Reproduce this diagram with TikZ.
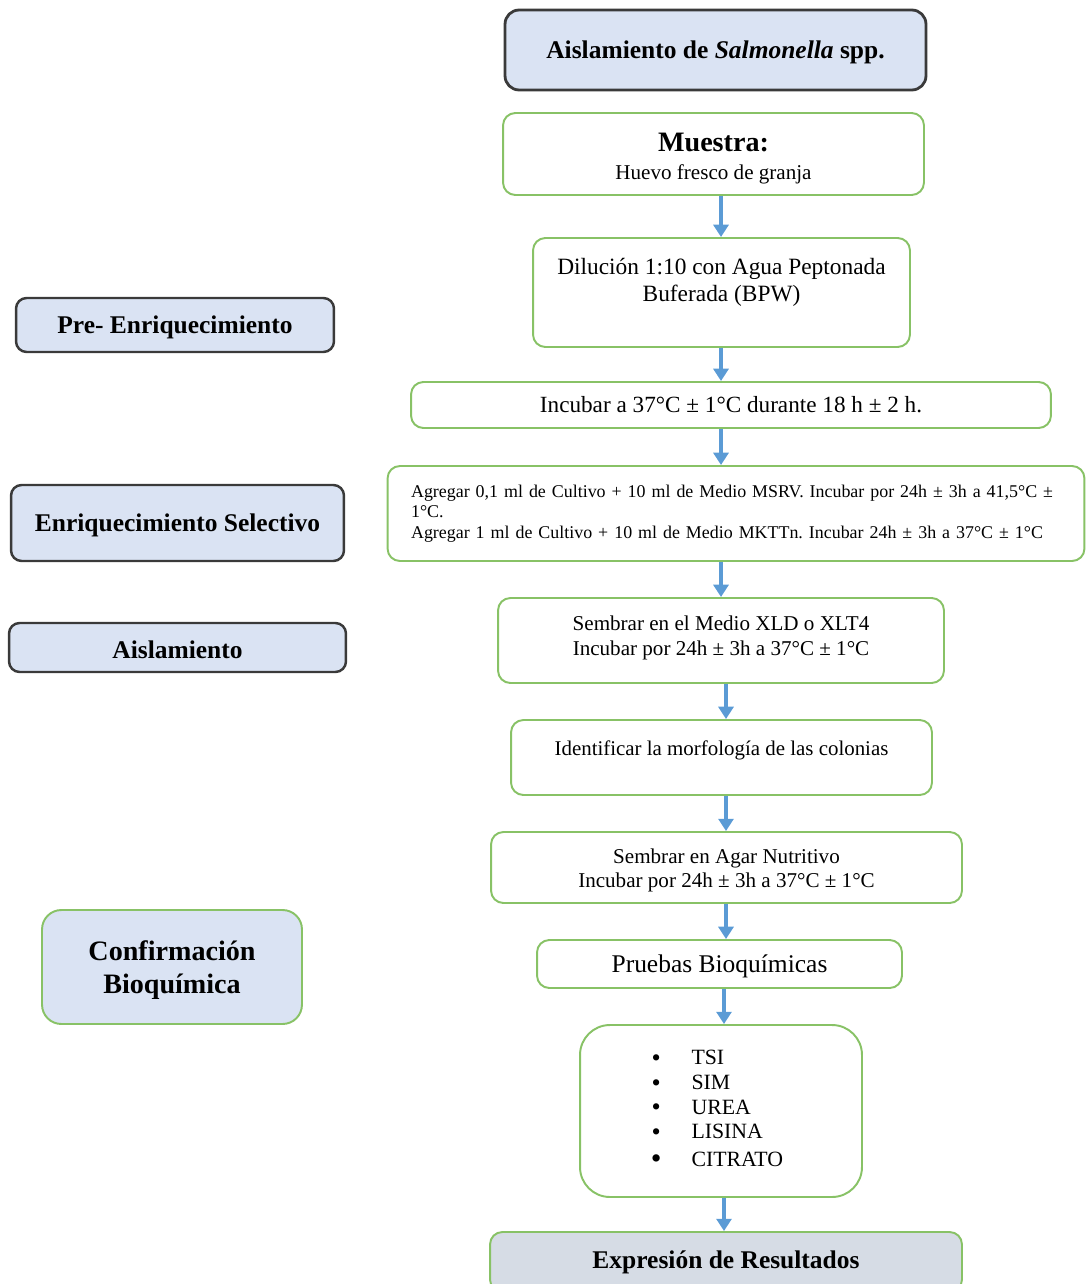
\documentclass[tikz,border=0pt]{standalone}
\usepackage{fontspec}
\setmainfont{Liberation Serif}
\usepackage{xcolor}
\usepackage{graphicx}
\usepackage{tikz}
\usetikzlibrary{arrows.meta}

\definecolor{boxblue}{HTML}{DAE3F3}
\definecolor{boxgrey}{HTML}{D6DCE5}
\definecolor{boxgreen}{HTML}{88C266}
\definecolor{arrowblue}{HTML}{5B9BD5}
\definecolor{edgedark}{HTML}{3A3A3A}
\newcommand{\fsz}[2]{\fontsize{#1}{#2}\selectfont}
\newcommand{\liftup}[2]{\raisebox{#1}[\height][\depth]{#2}}
\newcommand{\dotmark}[1]{\raisebox{-1pt}[0pt][0pt]{\scalebox{#1}{\textbullet}}}
\frenchspacing

\begin{document}
\begin{tikzpicture}[
  x=0.02cm, y=-0.02cm,
  stepbox/.style={draw=boxgreen, line width=1.1pt, rounded corners=7pt, fill=white, align=center, inner sep=2pt},
  tagbox/.style={draw=edgedark, line width=1.4pt, rounded corners=6pt, fill=boxblue, align=center, font=\bfseries\fsz{14.5}{17}},
  arr/.style={-{Triangle[length=7pt,width=8.5pt]}, line width=2.3pt, draw=arrowblue}
]
  \useasboundingbox (0,0) rectangle (1086,1284);

  % main column
  \node[tagbox, line width=1.6pt, rounded corners=8pt, minimum width=8.42cm, minimum height=1.6cm] (titulo) at (715.5,50) {\liftup{-1.5pt}{Aislamiento de \textit{Salmonella} spp.}};
  \node[stepbox, minimum width=8.42cm, minimum height=1.64cm] (muestra) at (713.5,154) {\liftup{-3pt}{\begin{tabular}{@{}c@{}}{\bfseries\fsz{16}{16}Muestra:}\\[4pt]{\fsz{12}{13}Huevo fresco de granja}\end{tabular}}};
  \node[stepbox, minimum width=7.54cm, minimum height=2.18cm, font=\fsz{13.3}{15.5}] (dilucion) at (721.5,292.5) {\liftup{5.5pt}{\begin{tabular}{@{}c@{}}Dilución 1:10 con Agua Peptonada\\Buferada (BPW)\end{tabular}}};
  \node[stepbox, minimum width=12.8cm, minimum height=0.92cm, font=\fsz{13.2}{16}] (incubar) at (731,405) {Incubar a 37°C ± 1°C durante 18 h ± 2 h.};
  \node[stepbox, minimum width=13.94cm, minimum height=1.9cm, align=left, text width=13.0cm, font=\fsz{10.2}{11.8}] (agregar) at (736,513.5) {Agregar 0,1 ml de Cultivo + 10 ml de Medio MSRV. Incubar por 24h ± 3h a 41,5°C ±\\1°C.\\Agregar 1 ml de Cultivo + 10 ml de Medio MKTTn. Incubar 24h ± 3h a 37°C ± 1°C};
  \node[stepbox, minimum width=8.92cm, minimum height=1.7cm, font=\fsz{12}{14}] (sembrar) at (721,640.5) {\liftup{1.5pt}{\begin{tabular}{@{}c@{}}Sembrar en el Medio XLD o XLT4\\Incubar por 24h ± 3h a 37°C ± 1°C\end{tabular}}};
  \node[stepbox, minimum width=8.42cm, minimum height=1.5cm, font=\fsz{11.9}{14}] (identificar) at (721.5,757.5) {\liftup{4pt}{Identificar la morfología de las colonias}};
  \node[stepbox, minimum width=9.42cm, minimum height=1.42cm, font=\fsz{12}{13.6}] (agar) at (726.5,867.5) {\liftup{-2pt}{\begin{tabular}{@{}c@{}}Sembrar en Agar Nutritivo\\Incubar por 24h ± 3h a 37°C ± 1°C\end{tabular}}};
  \node[stepbox, minimum width=7.3cm, minimum height=0.96cm, font=\fsz{14.5}{16}] (pruebas) at (719.5,964) {\liftup{-1.5pt}{Pruebas Bioquímicas}};
  \node[stepbox, rounded corners=17pt, minimum width=5.64cm, minimum height=3.44cm, font=\fsz{12.4}{14}] (lista) at (721,1111) {\begin{tabular}{@{}c@{\hspace{17pt}}l@{\hspace{4.5pt}}}
      \dotmark{1.2} & TSI\\
      \dotmark{1.2} & SIM\\
      \dotmark{1.2} & UREA\\
      \dotmark{1.2} & LISINA\\[2pt]
      \dotmark{1.4} & CITRATO
    \end{tabular}};
  \node[stepbox, fill=boxgrey, minimum width=9.44cm, minimum height=1.2cm, font=\bfseries\fsz{14.5}{16}] (resultados) at (726,1262) {Expresión de Resultados};

  % stage labels
  \node[tagbox, minimum width=6.36cm, minimum height=1.08cm] (pre) at (175,325) {\liftup{-1.5pt}{Pre- Enriquecimiento}};
  \node[tagbox, minimum width=6.66cm, minimum height=1.52cm] (selectivo) at (177.5,523) {\liftup{-1.5pt}{Enriquecimiento Selectivo}};
  \node[tagbox, minimum width=6.74cm, minimum height=0.98cm] (aislamiento) at (177.5,647.5) {\liftup{-1.5pt}{Aislamiento}};
  \node[tagbox, draw=boxgreen, line width=1.1pt, rounded corners=11pt, minimum width=5.2cm, minimum height=2.28cm, font=\bfseries\fsz{16}{18.5}] (confirmacion) at (172,967) {\liftup{-2pt}{\begin{tabular}{@{}c@{}}Confirmación\\Bioquímica\end{tabular}}};

  % arrows
  \coordinate (spineA) at (721,0);
  \coordinate (spineB) at (726,0);
  \coordinate (spineC) at (724,0);
  \draw[arr] (muestra.south -| spineA) -- (dilucion.north -| spineA);
  \draw[arr] (dilucion.south -| spineA) -- (incubar.north -| spineA);
  \draw[arr] (incubar.south -| spineA) -- (agregar.north -| spineA);
  \draw[arr] (agregar.south -| spineA) -- (sembrar.north -| spineA);
  \draw[arr] (sembrar.south -| spineB) -- (identificar.north -| spineB);
  \draw[arr] (identificar.south -| spineB) -- (agar.north -| spineB);
  \draw[arr] (agar.south -| spineB) -- (pruebas.north -| spineB);
  \draw[arr] (pruebas.south -| spineC) -- (lista.north -| spineC);
  \draw[arr] (lista.south -| spineC) -- (resultados.north -| spineC);
\end{tikzpicture}
\end{document}
